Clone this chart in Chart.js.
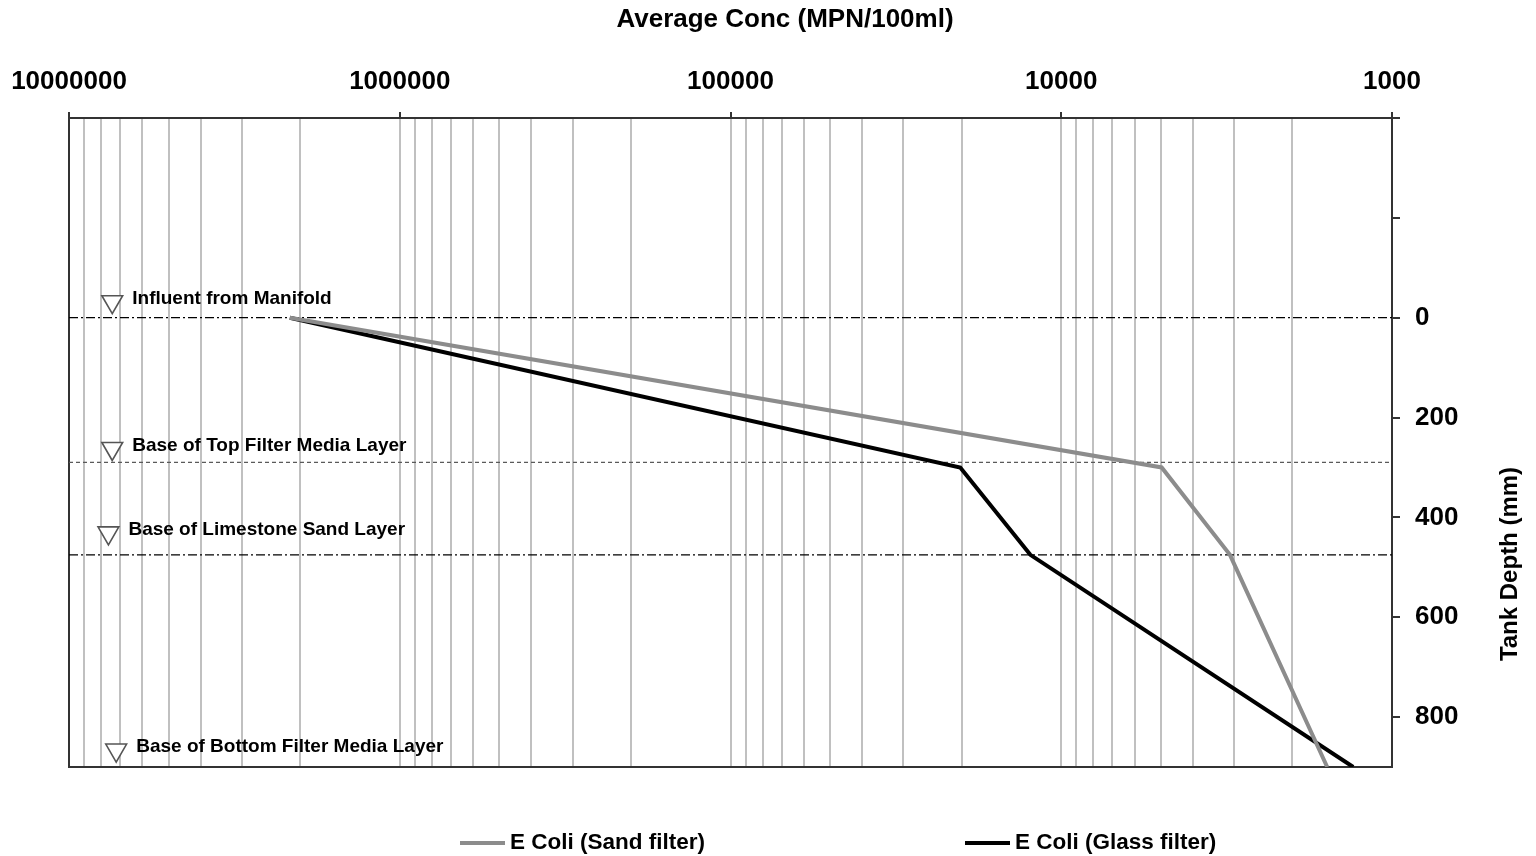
<!DOCTYPE html>
<html>
<head>
<meta charset="utf-8">
<title>E. coli concentration with tank depth</title>
<script src="https://cdn.jsdelivr.net/npm/chart.js@4.4.1/dist/chart.umd.min.js"></script>
<style>
  html, body { margin: 0; padding: 0; background: #ffffff; }
  #wrap { width: 1536px; height: 856px; position: relative; }
  canvas { display: block; }
</style>
</head>
<body>
<div id="wrap"><canvas id="chart" width="1536" height="856"></canvas></div>
<script>
// ---- data -------------------------------------------------------------
const depthMm     = [0, 300, 475, 900];                 // sampling depths (mm)
const sandFilter  = [2150000, 4970, 3090, 1570];        // MPN/100ml
const glassFilter = [2150000, 20200, 12400, 1310];      // MPN/100ml
const seriesNames = ['E Coli (Sand filter)', 'E Coli (Glass filter)'];

// layer markers (triangles) and their captions
const layerNames = [
  'Influent from Manifold',
  'Base of Top Filter Media Layer',
  'Base of Limestone Sand Layer',
  'Base of Bottom Filter Media Layer'
];
const layerConc  = [7400000, 7400000, 7600000, 7200000];
const layerDepth = [-32, 262, 431, 866];

// horizontal layer boundaries (mm) spanning the whole concentration range
const boundaryDepth = [0, 290, 475];
const concRange     = [10000000, 1000];

// axis ticks
const decadeTicks = [1000, 10000, 100000, 1000000, 10000000];
const depthTicks  = [0, 200, 400, 600, 800];
const depthMarks  = [-400, -200, 0, 200, 400, 600, 800];

const axisTitleX = 'Average Conc (MPN/100ml)';
const axisTitleY = 'Tank Depth (mm)';

// ---- helpers ----------------------------------------------------------
const FONT = "'Liberation Sans', Arial, Helvetica, sans-serif";
const pairs = (xs, ys) => xs.map((x, i) => ({ x, y: ys[i] }));

// log grid: 1..9 x each decade below the top decade, plus the top decade
const gridConc = [];
decadeTicks.slice(0, -1).forEach(d => {
  for (let m = 1; m <= 9; m++) gridConc.push(d * m);
});
gridConc.push(decadeTicks[decadeTicks.length - 1]);

const datasets = [
  {
    label: seriesNames[0], inLegend: true,
    data: pairs(sandFilter, depthMm),
    borderColor: '#8c8c8c', borderWidth: 4, pointRadius: 0, tension: 0
  },
  {
    label: seriesNames[1], inLegend: true,
    data: pairs(glassFilter, depthMm),
    borderColor: '#000000', borderWidth: 4, pointRadius: 0, tension: 0
  }
];

boundaryDepth.forEach((d, i) => {
  const dashed = i === 1;
  datasets.push({
    label: 'boundary ' + d,
    data: concRange.map(c => ({ x: c, y: d })),
    borderColor: dashed ? '#5a5a5a' : '#000000',
    borderWidth: 1.3,
    borderDash: dashed ? [4, 3] : [9, 3, 2, 3],
    pointRadius: 0, tension: 0
  });
});

datasets.push({
  label: 'layers', isLayers: true,
  data: pairs(layerConc, layerDepth),
  showLine: false,
  pointStyle: 'triangle', rotation: 180, pointRadius: 12,
  pointBackgroundColor: '#ffffff', pointBorderColor: '#555555', pointBorderWidth: 1.6
});

// ---- drawing plugins --------------------------------------------------
const framePlugin = {
  id: 'frame',
  beforeDatasetsDraw(chart) {
    const { ctx, chartArea: a } = chart;
    ctx.save();
    ctx.strokeStyle = '#333333';
    ctx.lineWidth = 2;
    ctx.strokeRect(a.left, a.top, a.right - a.left, a.bottom - a.top);
    ctx.restore();
  }
};

const textPlugin = {
  id: 'texts',
  afterDraw(chart) {
    const { ctx } = chart;
    ctx.save();
    ctx.fillStyle = '#000000';

    // top title
    ctx.font = 'bold 26px ' + FONT;
    ctx.textAlign = 'center';
    ctx.textBaseline = 'middle';
    ctx.fillText(axisTitleX, 785, 20);

    // right axis title, reading bottom to top
    ctx.save();
    ctx.translate(1510, 564);
    ctx.rotate(-Math.PI / 2);
    ctx.font = 'bold 24px ' + FONT;
    ctx.fillText(axisTitleY, 0, 0);
    ctx.restore();

    // layer captions next to the triangles
    const idx = chart.data.datasets.findIndex(ds => ds.isLayers);
    const meta = chart.getDatasetMeta(idx);
    ctx.font = 'bold 19px ' + FONT;
    ctx.textAlign = 'left';
    ctx.textBaseline = 'middle';
    meta.data.forEach((pt, i) => {
      ctx.fillText(layerNames[i], pt.x + 20, pt.y - 3);
    });

    // legend along the bottom
    ctx.font = 'bold 22.5px ' + FONT;
    let x = 460;
    const y = 843;
    chart.data.datasets.filter(ds => ds.inLegend).forEach(ds => {
      ctx.strokeStyle = ds.borderColor;
      ctx.lineWidth = 4;
      ctx.beginPath();
      ctx.moveTo(x, y);
      ctx.lineTo(x + 45, y);
      ctx.stroke();
      ctx.fillText(ds.label, x + 50, y);
      x += 50 + ctx.measureText(ds.label).width + 260;
    });
    ctx.restore();
  }
};

// ---- chart ------------------------------------------------------------
new Chart(document.getElementById('chart'), {
  type: 'line',
  data: { datasets },
  options: {
    responsive: false,
    animation: false,
    layout: { padding: { left: 69, right: 0, top: 40, bottom: 89 } },
    plugins: { legend: { display: false }, tooltip: { enabled: false } },
    scales: {
      x: {
        type: 'logarithmic',
        position: 'top',
        reverse: true,
        min: concRange[1],
        max: concRange[0],
        afterBuildTicks(scale) {
          scale.ticks = gridConc.map(v => ({ value: v, major: decadeTicks.includes(v) }));
        },
        afterFit(scale) { scale.height = 78; },
        ticks: {
          autoSkip: false, maxRotation: 0, minRotation: 0,
          padding: 15,
          color: '#000000',
          font: { family: FONT, size: 26, weight: 'bold' },
          callback: v => decadeTicks.includes(v) ? String(v) : ''
        },
        grid: {
          color: '#c0c0c0',
          lineWidth: 2,
          tickLength: 6,
          tickColor: c => (c.tick && decadeTicks.includes(c.tick.value)) ? '#333333' : 'rgba(0,0,0,0)'
        },
        border: { display: true, color: '#333333', width: 2 }
      },
      y: {
        type: 'linear',
        position: 'right',
        reverse: true,
        min: -400,
        max: 900,
        afterBuildTicks(scale) {
          scale.ticks = depthMarks.map(v => ({ value: v }));
        },
        afterFit(scale) { scale.width = 144; },
        ticks: {
          autoSkip: false,
          padding: 15,
          color: '#000000',
          font: { family: FONT, size: 26, weight: 'bold' },
          callback: v => depthTicks.includes(v) ? String(v) : ''
        },
        grid: {
          drawOnChartArea: false,
          tickLength: 8,
          tickColor: '#333333',
          lineWidth: 2
        },
        border: { display: true, color: '#333333', width: 2 }
      }
    }
  },
  plugins: [framePlugin, textPlugin]
});
</script>
</body>
</html>
